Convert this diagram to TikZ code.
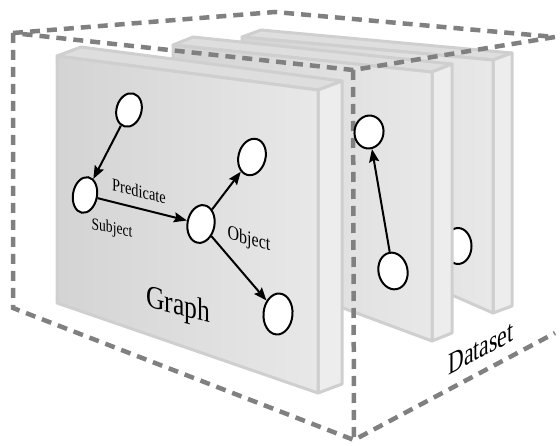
\documentclass[tikz,border=0pt]{standalone}
\usepackage{fontspec}
\setmainfont{Liberation Serif}
\usepackage{graphicx}
\usetikzlibrary{shapes.geometric, arrows.meta}
\definecolor{pborder}{gray}{0.81}
\definecolor{pleft}{gray}{0.83}
\definecolor{pright}{gray}{0.91}
\definecolor{pside}{gray}{0.93}
\definecolor{ptop}{gray}{0.87}
\definecolor{dashgray}{gray}{0.5}
\begin{document}
\begin{tikzpicture}[x=1pt,y=-1pt,
  face/.style={draw=pborder, line width=3pt, line join=round, left color=pleft, right color=pright},
  side/.style={draw=pborder, line width=3pt, line join=round, fill=pside},
  topface/.style={draw=pborder, line width=3pt, line join=round, fill=ptop},
  dashbox/.style={draw=dashgray, line width=4.5pt, dash pattern=on 10pt off 7pt},
  vert/.style={ellipse, draw=black, line width=2pt, fill=white, inner sep=0pt},
  arr/.style={line width=2pt, -{Stealth[length=13pt,width=10pt,inset=2pt]}},
  lbl/.style={inner sep=0pt, transform shape}
]
\useasboundingbox (0,0) rectangle (560,446);

% ---------- panel 3 (back) ----------
\path[topface] (242,37) -- (261,30) -- (512,53) -- (493,60) -- cycle;
\path[side] (493,60) -- (512,53) -- (512,306) -- (493,313) -- cycle;
\path[face] (242,37) -- (493,60) -- (493,313) -- (242,203) -- cycle;
\node[vert, minimum width=27pt, minimum height=36pt] (p3a) at (458,246) {};

% ---------- panel 2 (middle) ----------
\path[topface] (173,45) -- (193,37) -- (452,64) -- (432,72) -- cycle;
\path[side] (432,72) -- (452,64) -- (452,333) -- (432,341) -- cycle;
\path[face] (173,45) -- (432,72) -- (432,341) -- (173,245) -- cycle;

% ---------- panel 1 (front) ----------
\path[topface] (57,56) -- (81,47) -- (342,81) -- (318,90) -- cycle;
\path[side] (318,90) -- (342,81) -- (342,384) -- (318,393) -- cycle;
\path[face] (57,56) -- (318,90) -- (318,393) -- (57,303) -- cycle;

% ---------- dataset box ----------
\coordinate (tl) at (13,33);
\coordinate (tb) at (275,12);
\coordinate (tr) at (555,37);
\coordinate (tf) at (353,70);
\coordinate (bl) at (13,308);
\coordinate (bf) at (354,440);
\coordinate (br) at (555,333);
\draw[dashbox] (tl) -- (tb) -- (tr) -- (tf) -- cycle;
\draw[dashbox] (tl) -- (bl) -- (bf) -- (br);
\draw[dashbox] (tf) -- (bf);

% ---------- panel 2 graph ----------
\node[vert, minimum width=29pt, minimum height=33pt, rotate=-8] (p2top) at (369,132) {};
\node[vert, minimum width=29pt, minimum height=37pt, rotate=12] (p2bot) at (393,271) {};
\draw[arr] (p2bot) -- (p2top);

% ---------- panel 1 graph ----------
\node[vert, minimum width=25pt, minimum height=34pt, rotate=-15] (n1) at (129,110) {};
\node[vert, minimum width=24pt, minimum height=36pt, rotate=-10] (subj) at (85,195) {};
\node[vert, minimum width=27pt, minimum height=38pt, rotate=-10] (obj) at (201,224) {};
\node[vert, minimum width=27pt, minimum height=37pt, rotate=-15] (ur) at (252,157) {};
\node[vert, minimum width=29pt, minimum height=41pt, rotate=-5] (lr) at (278,314) {};
\draw[arr] (n1) -- (subj);
\draw[arr] (subj) -- (obj);
\draw[arr] (obj) -- (ur);
\draw[arr] (obj) -- (lr);

% ---------- labels ----------
\begin{scope}[shift={(139,191)}, yslant=-0.24]
  \node[lbl] (tpred) at (0,0) {\scalebox{0.8}[1]{\fontsize{18}{18}\selectfont Predicate}};
\end{scope}
\begin{scope}[shift={(112,229)}, yslant=-0.2]
  \node[lbl] (tsubj) at (0,0) {\scalebox{0.8}[1]{\fontsize{17}{17}\selectfont Subject}};
\end{scope}
\begin{scope}[shift={(249,240)}, yslant=-0.28]
  \node[lbl] (tobj) at (0,0) {\scalebox{0.8}[1]{\fontsize{20}{20}\selectfont Object}};
\end{scope}
\begin{scope}[shift={(178,307)}, yslant=-0.25]
  \node[lbl] (tgraph) at (0,0) {\scalebox{0.8}[1]{\fontsize{32}{32}\selectfont Graph}};
\end{scope}
\begin{scope}[shift={(481,348)}, yslant=0.53]
  \node[lbl] (tdata) at (0,0) {\scalebox{0.7}[1]{\fontsize{31}{31}\selectfont Dataset}};
\end{scope}
\end{tikzpicture}
\end{document}
